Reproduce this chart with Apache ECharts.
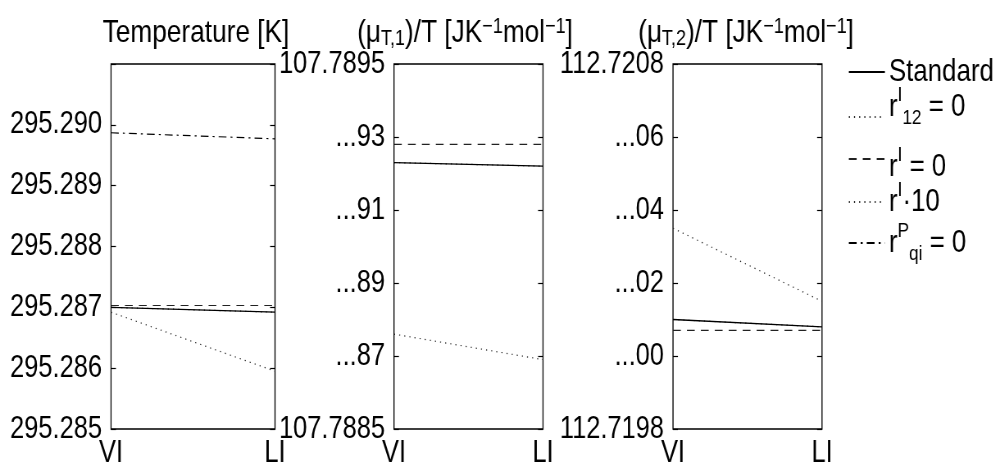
<!DOCTYPE html>
<html>
<head>
<meta charset="utf-8">
<script src="https://cdn.jsdelivr.net/npm/echarts@6/dist/echarts.min.js"></script>
<style>
  html, body { margin: 0; padding: 0; background: #fff; overflow: hidden; }
  #wrap { width: 1000px; height: 463px; overflow: hidden; }
  /* Chart is laid out wider and narrowed horizontally to give the condensed lettering */
  #chart { width: 1220px; height: 463px; transform: scaleX(0.81967); transform-origin: 0 0; }
</style>
</head>
<body>
<div id="wrap"><div id="chart"></div></div>
<script>
// Cases compared on the VI -> LI axis
const categories = ['VI', 'LI'];
const caseNames = ['Standard', 'rI12 = 0', 'rI = 0', 'rI·10', 'rPqi = 0'];

// Temperature [K]
const tempStandard = [295.28700, 295.28692];
const tempR12      = [295.28700, 295.28692];
const tempRI0      = [295.28703, 295.28703];
const tempRI10     = [295.28692, 295.28595];
const tempRPqi     = [295.28987, 295.28977];

// (mu_T,1)/T [J K^-1 mol^-1]
const mu1Standard = [107.78923, 107.78922];
const mu1R12      = [107.78923, 107.78922];
const mu1RI0      = [107.78928, 107.78928];
const mu1RI10     = [107.78876, 107.78869];
const mu1RPqi     = [null, null];

// (mu_T,2)/T [J K^-1 mol^-1]
const mu2Standard = [112.72010, 112.72008];
const mu2R12      = [112.72010, 112.72008];
const mu2RI0      = [112.72007, 112.72007];
const mu2RI10     = [112.72035, 112.72015];
const mu2RPqi     = [null, null];

// Tick values and their labels
const tempTicks = [295.285, 295.286, 295.287, 295.288, 295.289, 295.290];
const tempTickLabels = ['295.285', '295.286', '295.287', '295.288', '295.289', '295.290'];
const mu1Ticks = [107.7885, 107.7887, 107.7889, 107.7891, 107.7893, 107.7895];
const mu1TickLabels = ['107.7885', '...87', '...89', '...91', '...93', '107.7895'];
const mu2Ticks = [112.7198, 112.7200, 112.7202, 112.7204, 112.7206, 112.7208];
const mu2TickLabels = ['112.7198', '...00', '...02', '...04', '...06', '112.7208'];

const FONT = "'Liberation Sans', Arial, Helvetica, sans-serif";
const SX = 1 / 0.81967; // horizontal layout factor (undone by the CSS narrowing)

const panels = [
  { data: [tempStandard, tempR12, tempRI0, tempRI10, tempRPqi],
    min: 295.285, max: 295.291, interval: 0.001,
    ticks: tempTicks, labels: tempTickLabels,
    left: 111, width: 164,
    title: 'Temperature [K]', titleX: 196 },
  { data: [mu1Standard, mu1R12, mu1RI0, mu1RI10, mu1RPqi],
    min: 107.7885, max: 107.7895, interval: 0.0002,
    ticks: mu1Ticks, labels: mu1TickLabels,
    left: 394, width: 149,
    title: '(μ{sub|T,1})/T [JK{sup|−1}mol{sup|−1}]', titleX: 465 },
  { data: [mu2Standard, mu2R12, mu2RI0, mu2RI10, mu2RPqi],
    min: 112.7198, max: 112.7208, interval: 0.0002,
    ticks: mu2Ticks, labels: mu2TickLabels,
    left: 673, width: 149,
    title: '(μ{sub|T,2})/T [JK{sup|−1}mol{sup|−1}]', titleX: 746 }
];

const lineStyles = [
  { type: 'solid', width: 1.3, color: '#000' },
  { type: [1.3, 5], width: 1.2, color: '#222' },
  { type: [9.5, 7.5], width: 1.2, color: '#222' },
  { type: [1.3, 5], width: 1.2, color: '#222' },
  { type: [9.5, 5, 2.4, 5], width: 1.2, color: '#000' }
];

function tickLabel(ticks, labels) {
  return function (v) {
    for (let i = 0; i < ticks.length; i++) {
      if (Math.abs(v - ticks[i]) < 1e-7) return labels[i];
    }
    return '';
  };
}

const GRID_TOP = 64, GRID_H = 365;
const grid = [], xAxis = [], yAxis = [], series = [];

panels.forEach((p, i) => {
  grid.push({
    left: p.left * SX, width: p.width * SX, top: GRID_TOP, height: GRID_H,
    containLabel: false, outerBoundsMode: 'none',
    show: true, borderColor: '#000', borderWidth: 1.3, backgroundColor: '#fff'
  });
  xAxis.push({
    gridIndex: i, type: 'category', data: categories, boundaryGap: false,
    axisLine: { show: false }, axisTick: { show: false }, splitLine: { show: false },
    axisLabel: { fontFamily: FONT, fontSize: 31, color: '#000', margin: 9 }
  });
  const common = {
    gridIndex: i, type: 'value', min: p.min, max: p.max, interval: p.interval,
    axisLine: { show: false }, splitLine: { show: false },
    axisTick: { show: true, inside: true, length: 6, lineStyle: { color: '#000', width: 1.2 } }
  };
  yAxis.push(Object.assign({}, common, {
    position: 'left',
    axisLabel: { fontFamily: FONT, fontSize: 31, color: '#000', margin: 11,
                 showMinLabel: true, showMaxLabel: true,
                 formatter: tickLabel(p.ticks, p.labels) }
  }));
  yAxis.push(Object.assign({}, common, {
    position: 'right', axisLabel: { show: false }
  }));
  p.data.forEach((vals, k) => {
    series.push({
      type: 'line', name: caseNames[k],
      xAxisIndex: i, yAxisIndex: 2 * i,
      data: vals, symbol: 'none', clip: true, z: k === 0 ? 3 : 2,
      lineStyle: lineStyles[k], itemStyle: { color: lineStyles[k].color },
      emphasis: { disabled: true }
    });
  });
});

// Legend entries: label text and vertical placement
const legendLabels = [
  'Standard',
  'r{sup|I}{sub|12} = 0',
  'r{sup|I} = 0',
  'r{sup|I}·10',
  'r{sup|P}{sub|qi} = 0'
];
const legendTops = [50, 85, 129, 180, 221];
const legendPads = [0, [0, 0, 20, 0], [16, 0, 0, 0], 0, 0];

const richScripts = {
  sup: { fontFamily: FONT, fontSize: 21, lineHeight: 20, verticalAlign: 'top', color: '#000' },
  sub: { fontFamily: FONT, fontSize: 21, lineHeight: 20, verticalAlign: 'bottom', color: '#000' }
};

const legend = caseNames.map((name, k) => ({
  orient: 'vertical', left: 848 * SX, top: legendTops[k], padding: 0,
  itemWidth: 44, itemHeight: 14, itemGap: 0,
  data: [name],
  itemStyle: { opacity: 0 },
  formatter: () => legendLabels[k],
  textStyle: {
    fontFamily: FONT, fontSize: 31.5, color: '#000', lineHeight: 44,
    padding: legendPads[k], rich: richScripts
  }
}));

const titleRich = {
  sub: { fontFamily: FONT, fontSize: 22, lineHeight: 20, verticalAlign: 'bottom', fill: '#000' },
  sup: { fontFamily: FONT, fontSize: 22, lineHeight: 20, verticalAlign: 'top', fill: '#000' }
};

const graphic = panels.map(p => ({
  type: 'text', x: p.titleX * SX, y: 33, silent: true,
  style: {
    text: p.title, fill: '#000', fontFamily: FONT, fontSize: 32, lineHeight: 34,
    align: 'center', verticalAlign: 'middle', rich: titleRich
  }
}));

const chart = echarts.init(document.getElementById('chart'), null, { renderer: 'canvas' });
chart.setOption({
  animation: false,
  backgroundColor: '#fff',
  grid, xAxis, yAxis, series, legend, graphic
});
</script>
</body>
</html>
